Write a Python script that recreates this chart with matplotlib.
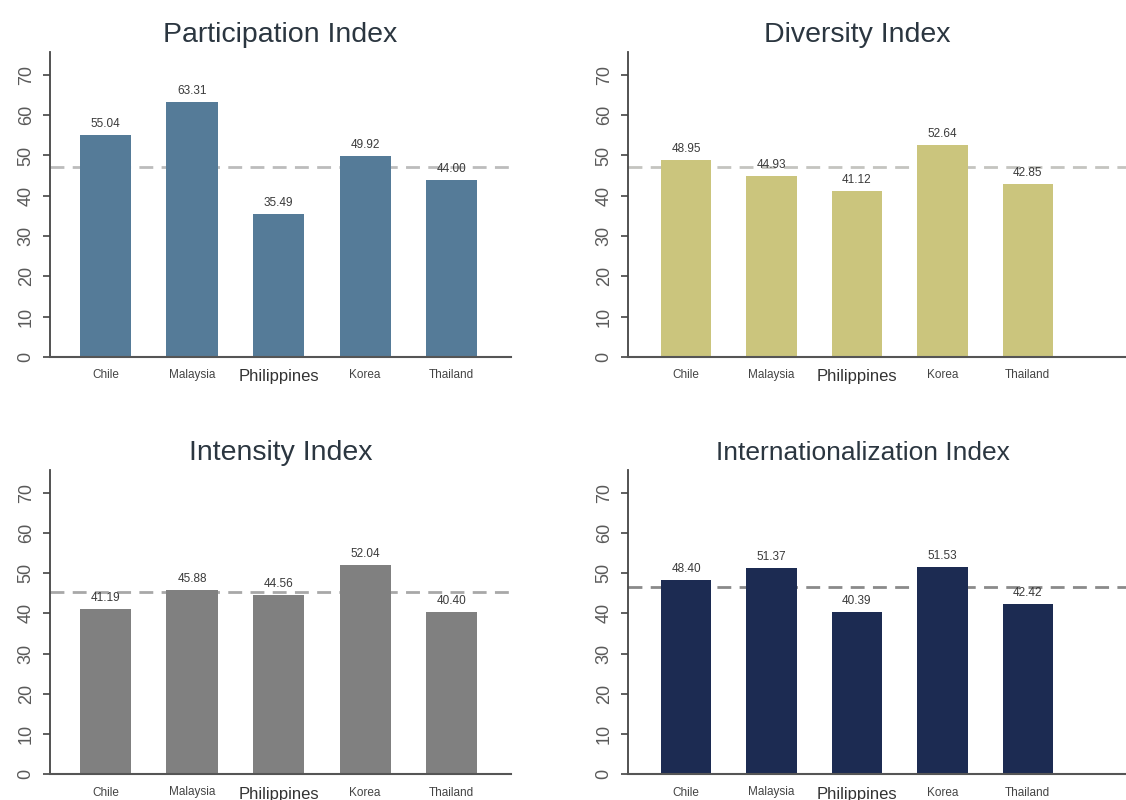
import matplotlib.pyplot as plt
from matplotlib import font_manager

#dati
countries = ["Chile", "Malaysia", "Philippines", "Korea", "Thailand"]
participation = [55.04, 63.31, 35.49, 49.92, 44.00]
diversity = [48.95, 44.93, 41.12, 52.64, 42.85]
intensity = [41.19, 45.88, 44.56, 52.04, 40.40]
internationalization = [48.40, 51.37, 40.39, 51.53, 42.42]
#valori delle linee tratteggiate di riferimento
ref_participation = 47.1
ref_diversity = 47.2
ref_intensity = 45.4
ref_internationalization = 46.5
y_ticks = [0, 10, 20, 30, 40, 50, 60, 70]

plt.rcParams["font.family"] = ["Liberation Sans", "DejaVu Sans"]

#font stretto per l'ultimo titolo, se presente
narrow = "Liberation Sans Narrow"
names = set(f.name for f in font_manager.fontManager.ttflist)
if narrow not in names:
    narrow = "Liberation Sans"


#Funzione che disegna un pannello
def draw_panel(rect, values, ref, colour, ref_colour, title, title_x, xlim, title_font, title_size):
    ax = fig.add_axes(rect)
    x = list(range(len(values)))
    ax.axhline(ref, color=ref_colour, lw=2, dashes=(5, 3), zorder=1)
    ax.bar(x, values, width=0.59, color=colour, zorder=2)
    for xi, v in zip(x, values):
        ax.text(xi, v + 1.2, f"{v:.2f}", ha="center", va="bottom", fontsize=8.5, color="#3a3a3a", zorder=3)

    ax.set_xlim(*xlim)
    ax.set_ylim(0, 75.7)
    ax.set_yticks(y_ticks)
    ax.set_yticklabels([str(t) for t in y_ticks], rotation=90, va="center", fontsize=13, color="#5a5a5a")
    ax.set_xticks(x)
    ax.set_xticklabels(countries)
    for lab in ax.get_xticklabels():
        if lab.get_text() == "Philippines":
            lab.set_fontsize(12)
            lab.set_color("#333333")
        else:
            lab.set_fontsize(8.5)
            lab.set_color("#444444")
    ax.tick_params(axis="x", length=0, pad=9)
    ax.tick_params(axis="y", length=5, width=1.2, color="#444444", pad=6)

    for s in ["top", "right"]:
        ax.spines[s].set_visible(False)
    ax.spines["left"].set_color("#444444")
    ax.spines["bottom"].set_color("#555555")
    ax.spines["left"].set_linewidth(1.3)
    ax.spines["bottom"].set_linewidth(1.5)

    ax.set_title(title, x=title_x, pad=7, fontsize=title_size, color="#2b3640", family=title_font)
    return ax


fig = plt.figure(figsize=(11.26, 8), dpi=100)

left_xlim = (-0.64, 4.68)
right_xlim = (-0.68, 5.15)

draw_panel([0.0444, 0.554, 0.409, 0.381], participation, ref_participation, "#557b98", "#bcbcbc",
           "Participation Index", 0.5, left_xlim, "Liberation Sans", 20.5)
draw_panel([0.5577, 0.554, 0.4423, 0.381], diversity, ref_diversity, "#cbc57d", "#c4c4c0",
           "Diversity Index", 0.46, right_xlim, "Liberation Sans", 20.5)
draw_panel([0.0444, 0.0325, 0.409, 0.38], intensity, ref_intensity, "#808080", "#a8a8a8",
           "Intensity Index", 0.5, left_xlim, "Liberation Sans", 20.5)
draw_panel([0.5577, 0.0325, 0.4423, 0.38], internationalization, ref_internationalization, "#1c2b52", "#8a8a8a",
           "Internationalization Index", 0.472, right_xlim, narrow, 19)

fig.savefig("out.png", dpi=100)
